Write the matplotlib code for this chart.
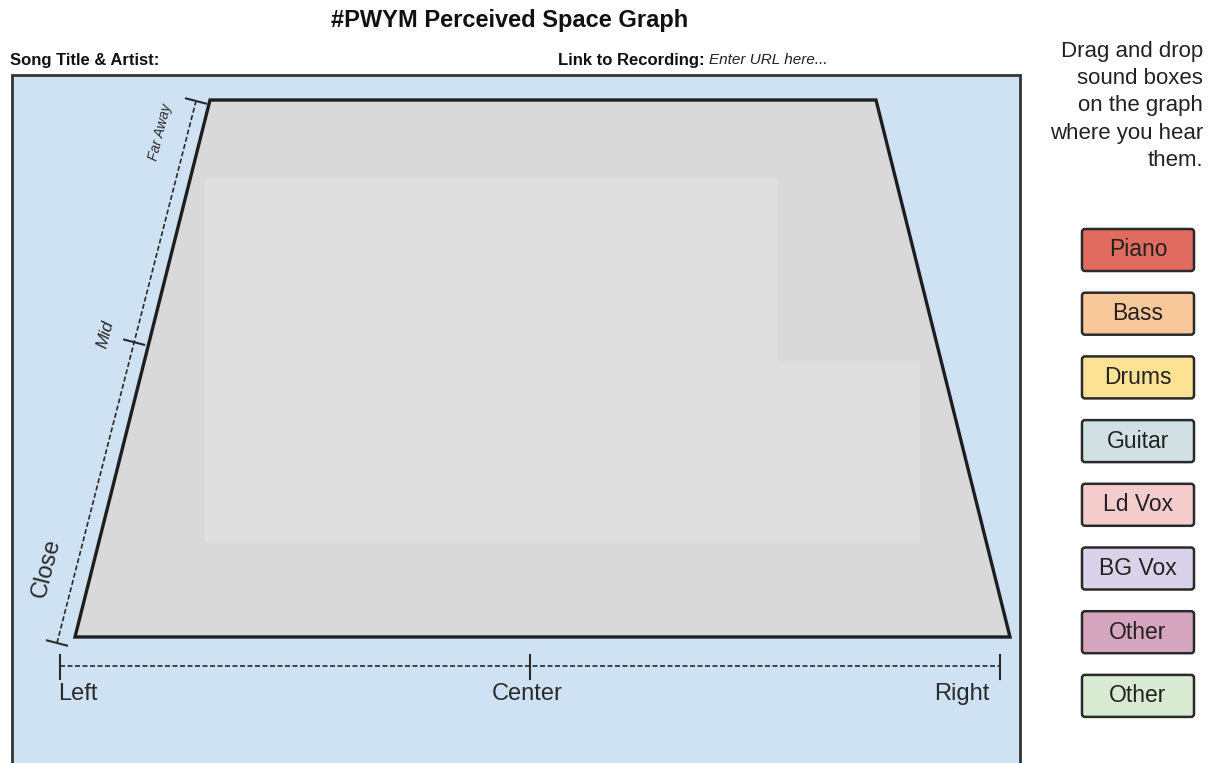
## #PWYM Perceived Space Graph
## Worksheet: drag the sound boxes onto the trapezoid where you hear them.

import matplotlib
matplotlib.use('Agg')
import matplotlib.pyplot as plt
from matplotlib.patches import Polygon, Rectangle, FancyBboxPatch

plt.rcParams['font.family'] = ['Liberation Sans', 'DejaVu Sans']

# Dados
box_labels = ['Piano', 'Bass', 'Drums', 'Guitar', 'Ld Vox', 'BG Vox', 'Other', 'Other']
box_colors = ['#e06c60', '#f9c89a', '#fee294', '#d0e0e3', '#f4cccc', '#d9d2e9', '#d5a6bd', '#d9ead3']
pan_labels = ['Left', 'Center', 'Right']
depth_labels = ['Close', 'Mid', 'Far Away']
hint_lines = ['Drag and drop', 'sound boxes', 'on the graph', 'where you hear', 'them.']

W, H = 1216, 763
fig = plt.figure(figsize=(W / 100, H / 100), dpi=100)
ax = fig.add_axes([0, 0, 1, 1])
ax.set_xlim(0, W)
ax.set_ylim(H, 0)
ax.axis('off')

ink = '#2a2a2a'

# Painel azul
ax.add_patch(Rectangle((12, 75), 1008, 690, facecolor='#cfe2f3', edgecolor='#333333', lw=2))

# Trapézio
ax.add_patch(Polygon([(75, 637), (210, 100), (876, 100), (1010, 637)], closed=True,
                     facecolor='#d9d9d9', edgecolor='#1e1e1e', lw=2.4, joinstyle='miter'))
ax.add_patch(Polygon([(205, 178), (778, 178), (778, 361), (920, 361), (920, 543), (205, 543)],
                     closed=True, facecolor='#dedede', edgecolor='none'))

# Eixo de profundidade (diagonal)
x0, y0, x1, y1 = 57, 643, 196, 101
ax.plot([x0, x1], [y0, y1], color=ink, lw=1.2, dashes=(3, 1.5))
for t in [0.0, 0.555, 1.0]:
    cx, cy = x0 + t * (x1 - x0), y0 + t * (y1 - y0)
    ax.plot([cx - 10, cx + 10], [cy - 2.6, cy + 2.6], color=ink, lw=1.5)

ang = 75.7
ax.text(46, 568, depth_labels[0], fontsize=17, rotation=ang, rotation_mode='anchor',
        ha='center', va='center', color=ink)
ax.text(106, 334, depth_labels[1], fontsize=12.5, style='italic', rotation=ang,
        rotation_mode='anchor', ha='center', va='center', color=ink)
ax.text(160, 132, depth_labels[2], fontsize=10, style='italic', rotation=ang,
        rotation_mode='anchor', ha='center', va='center', color=ink)

# Eixo de panorama (horizontal)
ax.plot([60, 1000], [666, 666], color=ink, lw=1.2, dashes=(3, 1.5))
for x in [60, 530, 1000]:
    ax.plot([x, x], [655, 679], color=ink, lw=1.5)
ax.text(58, 694, pan_labels[0], fontsize=17, ha='left', va='center', color=ink)
ax.text(527, 694, pan_labels[1], fontsize=17, ha='center', va='center', color=ink)
ax.text(962, 694, pan_labels[2], fontsize=17, ha='center', va='center', color=ink)

# Cabeçalho
ax.text(510, 20, '#PWYM Perceived Space Graph', fontsize=17, fontweight='bold',
        ha='center', va='center', color='#111111')
ax.text(10, 60, 'Song Title & Artist:', fontsize=12, fontweight='bold',
        ha='left', va='center', color='#111111')
ax.text(705, 60, 'Link to Recording:', fontsize=12, fontweight='bold',
        ha='right', va='center', color='#111111')
ax.text(709, 60, 'Enter URL here...', fontsize=11, style='italic',
        ha='left', va='center', color='#222222')

# Instruções
for i, line in enumerate(hint_lines):
    ax.text(1203, 52 + i * 27, line, fontsize=16, ha='right', va='center', color='#222222')

# Caixas de som
for i, (lab, col) in enumerate(zip(box_labels, box_colors)):
    cy = 250 + i * 63.7
    ax.add_patch(FancyBboxPatch((1082, cy - 21), 112, 42, boxstyle='round,pad=0,rounding_size=3',
                                facecolor=col, edgecolor='#2a2a2a', lw=1.8))
    ax.text(1138, cy, lab, fontsize=16.5, ha='center', va='center', color='#222222')

plt.savefig('out.png', dpi=100)
